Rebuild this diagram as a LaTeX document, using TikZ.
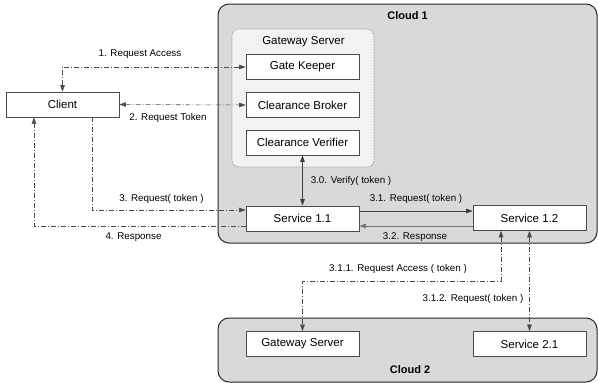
\documentclass[tikz,border=0pt]{standalone}
\usepackage{fontspec}
\setmainfont{Liberation Sans}
\usetikzlibrary{arrows.meta,calc}
\begin{document}
\begin{tikzpicture}[x=1pt,y=-1pt,
  cloud/.style={draw=black!85,line width=1pt,fill=black!15,rounded corners=11pt,inner sep=0pt},
  group/.style={draw=black!55,densely dotted,line width=0.6pt,fill=black!5,rounded corners=7pt,inner sep=0pt},
  box/.style={draw=black!70,fill=white,line width=0.6pt,minimum width=113pt,minimum height=25pt,inner sep=0pt,font=\fontsize{11.5}{13}\selectfont},
  lbl/.style={font=\fontsize{9.8}{11}\selectfont,inner sep=0pt},
  title/.style={font=\bfseries\fontsize{11}{13}\selectfont,inner sep=0pt},
  dashdot/.style={draw=black!70,line width=0.55pt,dash pattern=on 5pt off 2pt on 1pt off 2pt},
  solidlink/.style={draw=black!75,line width=0.7pt},
  tipend/.style={-{Triangle[length=6.5pt,width=4.5pt]}},
  tipboth/.style={{Triangle[length=6.5pt,width=4.5pt]}-{Triangle[length=6.5pt,width=4.5pt]}}
]
\useasboundingbox (0,0) rectangle (598,383);

% clouds and the gateway group
\node[cloud,minimum width=379pt,minimum height=239pt] (cloud1) at (407.5,123.5) {};
\node[cloud,minimum width=379pt,minimum height=64pt] (cloud2) at (407.5,350) {};
\node[group,minimum width=142pt,minimum height=138pt] (gwgroup) at (303,98) {};

\node[title] (cloud1lbl) at (407.5,16) {Cloud 1};
\node[title] (cloud2lbl) at (410,370) {Cloud 2};
\node[font=\fontsize{11.5}{13}\selectfont,inner sep=0pt] (gwtitle) at (303.5,42) {Gateway Server};

% boxes
\node[box] (client) at (62.5,104.5) {Client};
\node[box] (gk) at (302.5,67) {Gate Keeper};
\node[box] (cb) at (302.5,105) {Clearance Broker};
\node[box] (cv) at (302.5,142.5) {Clearance Verifier};
\node[box] (s11) at (302.5,218.5) {Service 1.1};
\node[box] (s12) at (529.5,218) {Service 1.2};
\node[box] (gw2) at (302.5,344) {Gateway Server};
\node[box] (s21) at (529.5,344) {Service 2.1};

% client side connectors
\draw[dashdot,tipboth] (gk.west) -| (client.north);
\draw[dashdot,tipboth] (client.east) -- (cb.west);
\draw[dashdot,tipend] ($(client.south)+(29.5,0)$) |- ($(s11.west)+(0,-8.5)$);
\draw[dashdot,tipend] ($(s11.west)+(0,7.5)$) -| ($(client.south)+(-28.5,0)$);

% inside cloud 1
\draw[solidlink,tipboth] (cv.south) -- (s11.north);
\draw[solidlink,tipend] ($(s11.east)+(0,-7.5)$) -- ($(s12.west)+(0,-7)$);
\draw[solidlink,draw=black!55,tipend] ($(s12.west)+(0,8)$) -- ($(s11.east)+(0,7.5)$);

% towards cloud 2
\draw[dashdot,tipboth] ($(s12.south)+(-28.5,0)$) -- ++(0,50) -| (gw2.north);
\draw[dashdot,tipboth] (s12.south) -- (s21.north);

% labels
\node[lbl] (l1) at (140,54) {1. Request Access};
\node[lbl] (l2) at (168,118) {2. Request Token};
\node[lbl] (l3) at (161.5,199) {3. Request( token )};
\node[lbl] (l4) at (133.5,237) {4. Response};
\node[lbl] (l30) at (351,181) {3.0. Verify( token )};
\node[lbl] (l31) at (416,199) {3.1. Request( token )};
\node[lbl] (l32) at (415,237) {3.2. Response};
\node[lbl] (l311) at (398,269) {3.1.1. Request Access ( token )};
\node[lbl] (l312) at (473,299) {3.1.2. Request( token )};
\end{tikzpicture}
\end{document}
